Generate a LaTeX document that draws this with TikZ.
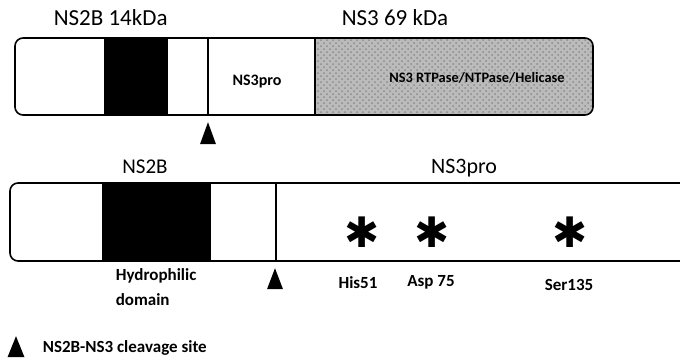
\documentclass[tikz,border=0pt]{standalone}
\usepackage{fontspec}
\setmainfont{Carlito}
\newfontfamily\symfont{DejaVu Sans}
\usetikzlibrary{shapes.geometric,patterns}
\definecolor{Stipple}{HTML}{BBBBBB}

\begin{document}
\begin{tikzpicture}[x=0.5pt,y=-0.5pt,line width=0.8pt,
    cut/.style={isosceles triangle,shape border rotate=90,isosceles triangle stretches,
      fill=black,inner sep=0pt,minimum width=8pt,minimum height=11pt,anchor=south},
    caption/.style={font=\fontsize{11.5}{13}\selectfont,anchor=base,inner sep=0pt},
    site/.style={font=\bfseries\fontsize{8.5}{10}\selectfont,anchor=base,inner sep=0pt},
    star/.style={font=\symfont\bfseries\fontsize{21}{21}\selectfont,inner sep=0pt}]
    \useasboundingbox (0,0) rectangle (680,361);
    \begin{scope}
      \clip[rounded corners=4pt] (15,38) rectangle (593,115);
      \fill[Stipple] (315,38) rectangle (593,115);
      \fill[pattern=crosshatch dots,pattern color=black!45] (315,38) rectangle (593,115);
      \fill[black] (104,38) rectangle (168,115);
    \end{scope}
    \draw[rounded corners=4pt] (15,38) rectangle (593,115);
    \draw (208,38) -- (208,115) (315,38) -- (315,115);
    \node[caption,anchor=base west] (ns2btop) at (53,25) {NS2B 14kDa};
    \node[caption] (ns3top) at (395,25) {NS3 69 kDa};
    \node[site,font=\bfseries\fontsize{8}{9}\selectfont] (protop) at (257,85) {NS3pro};
    \node[site,font=\bfseries\fontsize{7.2}{8}\selectfont] (helicase) at (477,82) {NS3 RTPase/NTPase/Helicase};
    \node[cut] (cuttop) at (208,145) {};

    \fill[black] (102,183) rectangle (211,261);
    \draw[rounded corners=4pt] (680,183) -- (10,183) -- (10,261) -- (680,261);
    \draw (276,183) -- (276,261);
    \node[caption,font=\fontsize{10.5}{12}\selectfont] (ns2blow) at (145,173) {NS2B};
    \node[caption,font=\fontsize{11}{13}\selectfont] (prolow) at (464,173) {NS3pro};
    \node[star] (hisstar) at (362,232) {✱};
    \node[star] (aspstar) at (432,232) {✱};
    \node[star] (serstar) at (570,232) {✱};
    \node[site] (his) at (358,288) {His51};
    \node[site] (asp) at (431,286) {Asp 75};
    \node[site] (ser) at (569,290) {Ser135};
    \node[site,font=\bfseries\fontsize{8.5}{12.5}\selectfont,align=left,anchor=base west]
      (hydro) at (115,305) {Hydrophilic\\domain};
    \node[cut,minimum height=10.5pt] (cutlow) at (275,290) {};

    \node[cut,minimum width=8.5pt,minimum height=10.5pt] (key) at (16,358) {};
    \node[site,anchor=base west] (keytext) at (42,352) {NS2B-NS3 cleavage site};
\end{tikzpicture}
\end{document}
